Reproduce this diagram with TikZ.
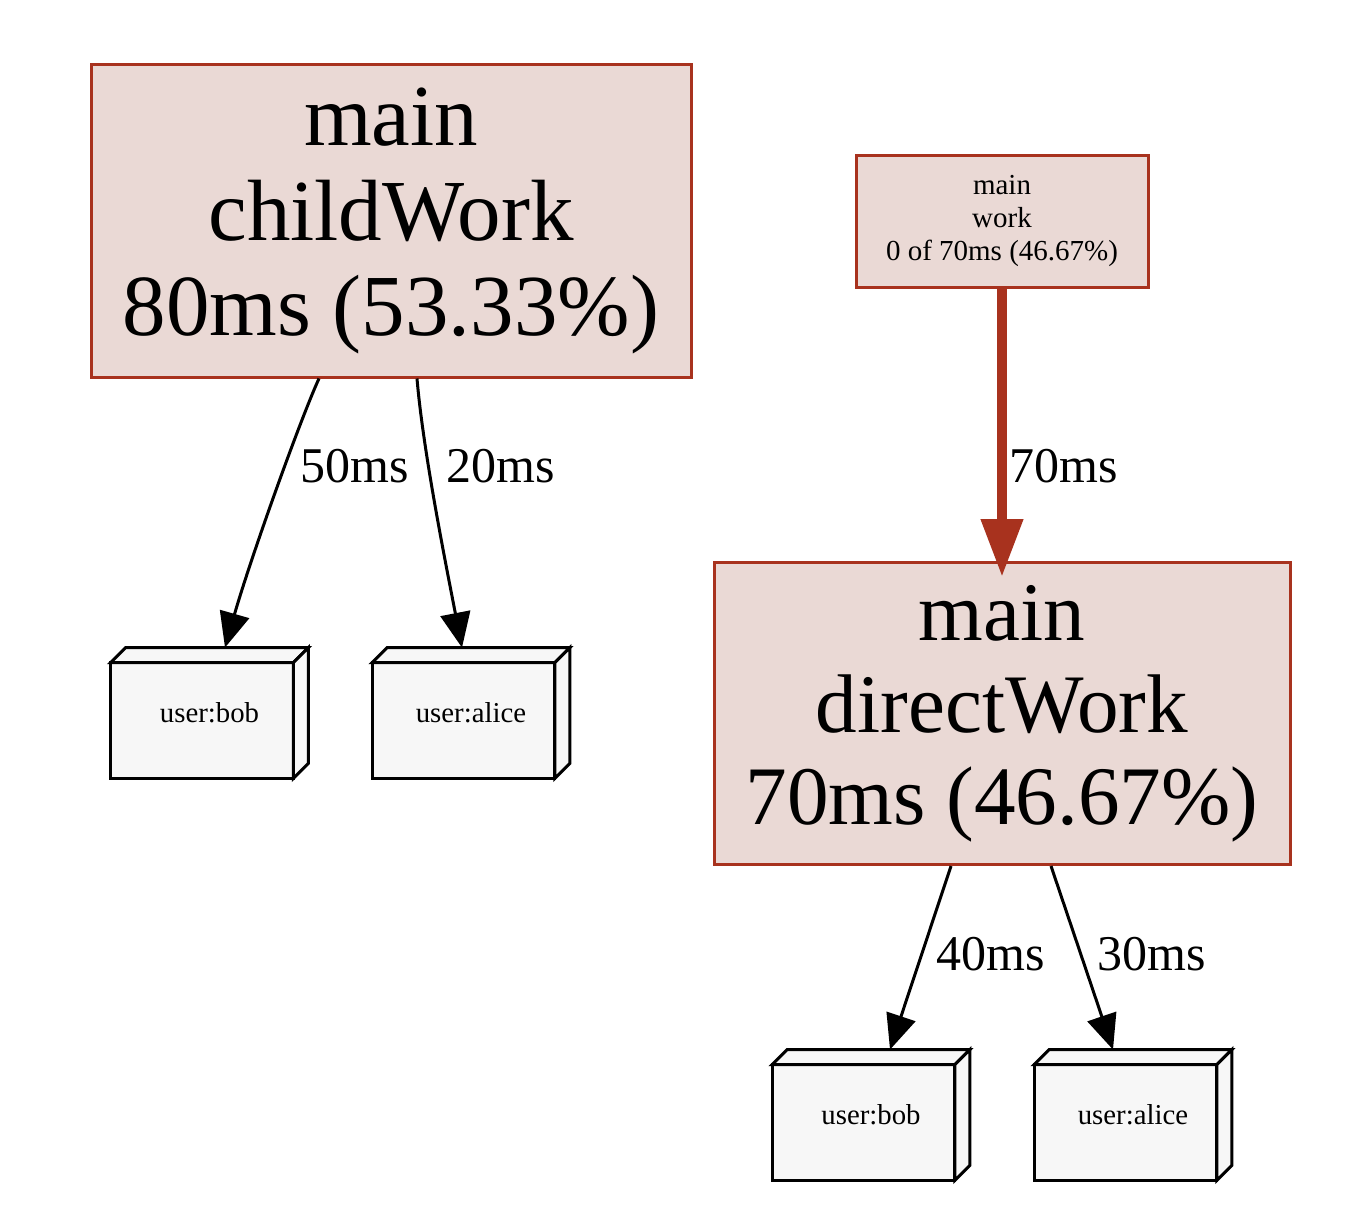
\documentclass[tikz,border=0pt]{standalone}
\usepackage{fontspec}
\setmainfont{Liberation Serif}
\usetikzlibrary{arrows.meta,calc}
\pgfdeclarelayer{background}
\pgfsetlayers{background,main}
\definecolor{nodefill}{HTML}{EAD9D5}
\definecolor{nodeline}{HTML}{A8321E}
\definecolor{boxfill}{HTML}{F7F7F7}
\tikzset{
  funcbox/.style={draw=nodeline, fill=nodefill, line width=1.5pt, align=center, inner sep=0pt},
  userbox/.style={minimum width=98.5pt, minimum height=65pt, inner sep=0pt, font=\fontsize{14.4}{17}\selectfont},
  cubeface/.style={draw=black, fill=boxfill, line width=1.5pt, line join=miter},
  blackedge/.style={draw=black, line width=1.5pt, -{Triangle[length=17.5pt,width=15pt]}},
  rededge/.style={draw=nodeline, line width=5.25pt, -{Triangle[length=29pt,width=20pt]}},
  edgelabel/.style={font=\fontsize{25}{30}\selectfont, inner sep=0pt, anchor=base west}
}
\newcommand\drawcube[1]{%
  \begin{pgfonlayer}{background}
    \path[cubeface] (#1.south west) rectangle ($(#1.north east)+(-15,15)$);
    \path[cubeface] ($(#1.north west)+(0,15)$) -- ($(#1.north west)+(15,0)$) -- (#1.north east) -- ($(#1.north east)+(-15,15)$) -- cycle;
    \path[cubeface] ($(#1.north east)+(-15,15)$) -- (#1.north east) -- ($(#1.south east)+(0,-15)$) -- ($(#1.south east)+(-15,0)$) -- cycle;
  \end{pgfonlayer}}
\begin{document}
\begin{tikzpicture}[x=0.5pt,y=-0.5pt]
  \begin{pgfonlayer}{background}
    \path[fill=white] (0,0) rectangle (1366,1226);
  \end{pgfonlayer}
  \useasboundingbox (0,0) rectangle (1366,1226);

  % function nodes
  \node[funcbox, minimum width=300pt, minimum height=156.5pt, font=\fontsize{43.5}{47.5}\selectfont]
    (cw) at (391,220.5) {main\\childWork\\80ms (53.33\%)};
  \node[funcbox, minimum width=146pt, minimum height=66pt, font=\fontsize{14.5}{16.5}\selectfont]
    (wk) at (1002,221) {main\\work\\0 of 70ms (46.67\%)};
  \node[funcbox, minimum width=288pt, minimum height=151pt, font=\fontsize{41.6}{46}\selectfont]
    (dw) at (1002,713.5) {main\\directWork\\70ms (46.67\%)};

  % user nodes (box3d)
  \node[userbox] (bob1) at (209.5,713) {user:bob};
  \node[userbox] (alice1) at (471,713) {user:alice};
  \node[userbox] (bob2) at (871,1115) {user:bob};
  \node[userbox] (alice2) at (1133,1115) {user:alice};
  \drawcube{bob1}
  \drawcube{alice1}
  \drawcube{bob2}
  \drawcube{alice2}

  % edges
  \draw[blackedge] ($(cw.south)+(-72,0)$) .. controls (300,420) and (250,560) .. ($(bob1.north)+(15.5,0)$);
  \draw[blackedge] ($(cw.south)+(26,0)$) .. controls (423,450) and (445,560) .. ($(alice1.north)+(-9,0)$);
  \draw[rededge] (wk.south) -- ($(dw.north)+(0,16)$);
  \draw[blackedge] ($(dw.south)+(-51,0)$) -- ($(bob2.north)+(19,0)$);
  \draw[blackedge] ($(dw.south)+(49,0)$) -- ($(alice2.north)+(-20,0)$);

  % edge labels
  \node[edgelabel] (l50) at (300,482) {50ms};
  \node[edgelabel] (l20) at (446,482) {20ms};
  \node[edgelabel] (l70) at (1009,482) {70ms};
  \node[edgelabel] (l40) at (936,970) {40ms};
  \node[edgelabel] (l30) at (1097,970) {30ms};
\end{tikzpicture}
\end{document}
